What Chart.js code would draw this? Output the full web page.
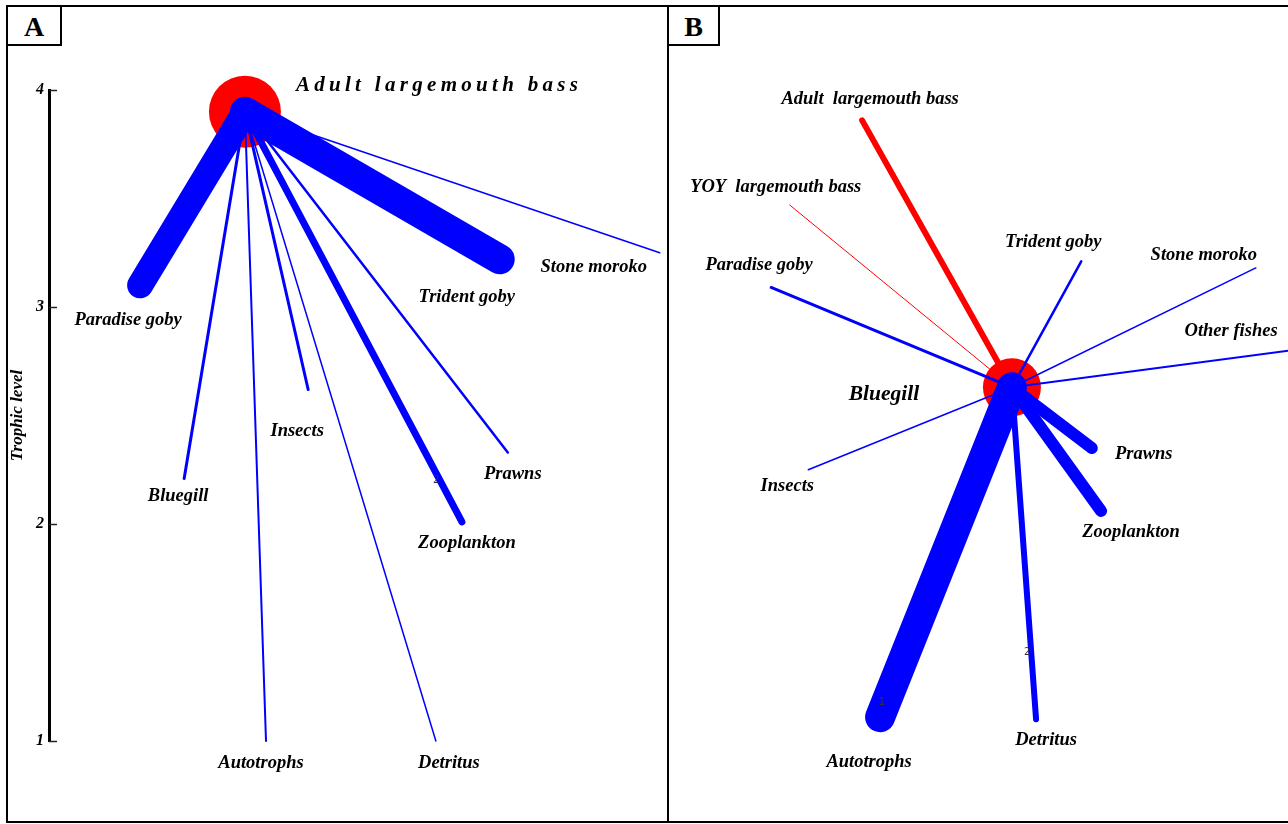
<!DOCTYPE html>
<html>
<head>
<meta charset="utf-8">
<script src="https://cdn.jsdelivr.net/npm/chart.js@4.4.1/dist/chart.umd.min.js"></script>
<style>
  html, body { margin: 0; padding: 0; background: #fff; }
  #wrap { position: relative; width: 1288px; height: 824px; overflow: hidden; }
  canvas { position: absolute; top: 0; }
  #cA { left: 0; }
  #cB { left: 669px; }
  .frame { position: absolute; left: 6px; top: 5px; width: 1300px; height: 818px;
           border: 2px solid #000; box-sizing: border-box; }
  .divider { position: absolute; left: 667px; top: 5px; width: 2px; height: 818px; background: #000; }
  .tag { position: absolute; top: 5px; height: 41px; border: 2px solid #000; box-sizing: border-box;
         font: bold 28px "Liberation Serif", "DejaVu Serif", serif; line-height: 39px;
         text-align: center; background: #fff; }
  #tagA { left: 6px; width: 56px; }
  #tagB { left: 667px; width: 53px; }
</style>
</head>
<body>
<div id="wrap">
  <canvas id="cA" width="669" height="824"></canvas>
  <canvas id="cB" width="619" height="824"></canvas>
  <div class="frame"></div>
  <div class="divider"></div>
  <div class="tag" id="tagA">A</div>
  <div class="tag" id="tagB">B</div>
</div>
<script>
// ---- Panel A: diet of adult largemouth bass (node = predator, links = prey) ----
const centerA = { name: 'Adult largemouth bass', pos: 31.6, level: 3.90 };
const namesA  = ['Paradise goby', 'Trident goby', 'Stone moroko', 'Prawns', 'Zooplankton',
                 'Insects', 'Bluegill', 'Autotrophs', 'Detritus'];
const posA    = [14.7, 72.7, 98.5, 74.0, 66.6, 41.8, 21.8, 35.0, 62.4];
const levelA  = [3.10, 3.22, 3.25, 2.33, 2.01, 2.62, 2.21, 1.00, 1.00];
const flowA   = [26, 30, 1.5, 2.5, 7, 3, 3, 2, 1.5];
const yTicksA = [1, 2, 3, 4];

// ---- Panel B: bluegill with its predators (red) and prey (blue) ----
const centerB = { name: 'Bluegill', pos: 55.4, level: 2.63 };
const namesB  = ['Adult  largemouth bass', 'YOY  largemouth bass', 'Paradise goby', 'Trident goby',
                 'Stone moroko', 'Other fishes', 'Insects', 'Prawns', 'Zooplankton', 'Detritus', 'Autotrophs'];
const posB    = [31.2, 19.5, 16.5, 66.6, 94.8, 100.5, 22.5, 68.3, 69.8, 59.3, 34.1];
const levelB  = [3.86, 3.47, 3.09, 3.21, 3.18, 2.80, 2.25, 2.35, 2.06, 1.10, 1.11];
const flowB   = [6, 1, 3, 2.5, 1.5, 2, 1.5, 12, 12, 6, 30];
const roleB   = ['predator', 'predator', 'prey', 'prey', 'prey', 'prey', 'prey', 'prey', 'prey', 'prey', 'prey'];

// ---- styling / label layout (pixel offsets from a node's end point) ----
const BLUE = '#0000ff', RED = '#ff0000';
const SERIF = '"Liberation Serif", "DejaVu Serif", serif';
const LABEL_FONT = 'italic bold 18.5px ' + SERIF;
const offsetsA = {
  'Adult largemouth bass': [192, -26],
  'Paradise goby': [-12, 35], 'Trident goby': [-33, 38], 'Stone moroko': [-66, 14],
  'Prawns': [5, 22], 'Zooplankton': [5, 21], 'Insects': [-11, 42], 'Bluegill': [-6, 18],
  'Autotrophs': [-5, 22], 'Detritus': [13, 22]
};
const offsetsB = {
  'Bluegill': [-128, 7],
  'Adult  largemouth bass': [8, -21], 'YOY  largemouth bass': [-14, -18], 'Paradise goby': [-12, -22],
  'Trident goby': [-28, -19], 'Stone moroko': [-52, -13], 'Other fishes': [-60, -19],
  'Insects': [-21, 16], 'Prawns': [52, 6], 'Zooplankton': [30, 21], 'Detritus': [10, 21],
  'Autotrophs': [-11, 45]
};
// small digits printed along a few links
const marksA = [{ link: 'Zooplankton', t: 0.90, text: '2' }];
const marksB = [{ link: 'Autotrophs', t: 0.955, text: '1' }, { link: 'Detritus', t: 0.80, text: '2' }];

function buildLinks(center, names, xs, ys, flows, colorOf) {
  return names.map((n, i) => ({
    type: 'line',
    label: n,
    data: [{ x: center.pos, y: center.level }, { x: xs[i], y: ys[i] }],
    borderColor: colorOf(i),
    borderWidth: flows[i],
    borderCapStyle: 'round',
    pointRadius: 0,
    pointHoverRadius: 0,
    fill: false,
    tension: 0,
    clip: false,
    order: colorOf(i) === RED ? 5 : (flows[i] > 10 ? 1 : 0)
  }));
}

function nodeDataset(center, radius) {
  return {
    type: 'scatter',
    label: center.name,
    data: [{ x: center.pos, y: center.level }],
    pointRadius: radius,
    pointHoverRadius: radius,
    backgroundColor: RED,
    borderWidth: 0,
    clip: false,
    order: 10
  };
}

function labelItems(center, names, xs, ys, offsets, bigCenterFont, spacing) {
  const items = [{
    text: center.name, x: center.pos, y: center.level,
    dx: offsets[center.name][0], dy: offsets[center.name][1],
    font: bigCenterFont, spacing: spacing
  }];
  names.forEach((n, i) => items.push({
    text: n, x: xs[i], y: ys[i], dx: offsets[n][0], dy: offsets[n][1], font: LABEL_FONT, spacing: 0
  }));
  return items;
}

function markItems(center, names, xs, ys, marks) {
  return marks.map(m => {
    const i = names.indexOf(m.link);
    return {
      text: m.text,
      x: center.pos + (xs[i] - center.pos) * m.t,
      y: center.level + (ys[i] - center.level) * m.t,
      dx: -4, dy: 0, font: '10px "DejaVu Sans", sans-serif', color: '#333', spacing: 0
    };
  });
}

// draws node names at scale positions
const nodeText = {
  id: 'nodeText',
  afterDatasetsDraw(chart, args, opts) {
    const { ctx } = chart;
    const xs = chart.scales.x, ys = chart.scales.y;
    ctx.save();
    ctx.textAlign = 'center';
    ctx.textBaseline = 'middle';
    for (const it of opts.items || []) {
      ctx.font = it.font;
      ctx.fillStyle = it.color || '#000';
      if ('letterSpacing' in ctx) ctx.letterSpacing = (it.spacing || 0) + 'px';
      const px = xs.getPixelForValue(it.x) + it.dx + (it.spacing || 0) / 2;
      ctx.fillText(it.text, px, ys.getPixelForValue(it.y) + it.dy);
    }
    ctx.restore();
  }
};

// short tick marks pointing into the plot from the trophic-level axis
const innerTicks = {
  id: 'innerTicks',
  afterDraw(chart, args, opts) {
    if (!opts.enabled) return;
    const { ctx, chartArea } = chart;
    const y = chart.scales.y;
    ctx.save();
    ctx.strokeStyle = '#222';
    ctx.lineWidth = 1.5;
    for (const v of yTicksA) {
      const py = Math.round(y.getPixelForValue(v)) + 0.5;
      ctx.beginPath();
      ctx.moveTo(chartArea.left, py);
      ctx.lineTo(chartArea.left + 8, py);
      ctx.stroke();
    }
    ctx.restore();
  }
};

const common = {
  responsive: false,
  devicePixelRatio: 1,
  animation: false,
  events: [],
  plugins: { legend: { display: false }, tooltip: { enabled: false } }
};

// Panel A
new Chart(document.getElementById('cA'), {
  data: {
    datasets: [
      ...buildLinks(centerA, namesA, posA, levelA, flowA, () => BLUE),
      nodeDataset(centerA, 36)
    ]
  },
  options: {
    ...common,
    layout: { autoPadding: false, padding: { left: 0, right: 0, top: 90, bottom: 83 } },
    scales: {
      x: { type: 'linear', min: 0, max: 100, display: false },
      y: {
        type: 'linear', min: 1, max: 4,
        afterFit(scale) { scale.width = 49; },
        afterBuildTicks(scale) { scale.ticks = yTicksA.map(v => ({ value: v })); },
        border: { display: true, color: '#000', width: 3 },
        grid: { display: true, drawOnChartArea: false, drawTicks: false, color: 'rgba(0,0,0,0)' },
        ticks: {
          padding: 5, color: '#000',
          font: { family: SERIF, size: 16, style: 'italic', weight: 'bold' }
        },
        title: {
          display: true, text: 'Trophic level', color: '#000',
          padding: { top: 7, bottom: 0 },
          font: { family: SERIF, size: 17, style: 'italic', weight: 'bold' }
        }
      }
    },
    plugins: {
      ...common.plugins,
      nodeText: {
        items: labelItems(centerA, namesA, posA, levelA, offsetsA, 'italic bold 21px ' + SERIF, 4.3)
          .concat(markItems(centerA, namesA, posA, levelA, marksA))
      },
      innerTicks: { enabled: true }
    }
  },
  plugins: [nodeText, innerTicks]
});

// Panel B
new Chart(document.getElementById('cB'), {
  data: {
    datasets: [
      ...buildLinks(centerB, namesB, posB, levelB, flowB, i => roleB[i] === 'predator' ? RED : BLUE),
      nodeDataset(centerB, 29)
    ]
  },
  options: {
    ...common,
    layout: { autoPadding: false, padding: { left: 0, right: 0, top: 90, bottom: 83 } },
    scales: {
      x: { type: 'linear', min: 0, max: 100, display: false },
      y: { type: 'linear', min: 1, max: 4, display: false }
    },
    plugins: {
      ...common.plugins,
      nodeText: {
        items: labelItems(centerB, namesB, posB, levelB, offsetsB, 'italic bold 21.5px ' + SERIF, 0)
          .concat(markItems(centerB, namesB, posB, levelB, marksB))
      },
      innerTicks: { enabled: false }
    }
  },
  plugins: [nodeText, innerTicks]
});
</script>
</body>
</html>
